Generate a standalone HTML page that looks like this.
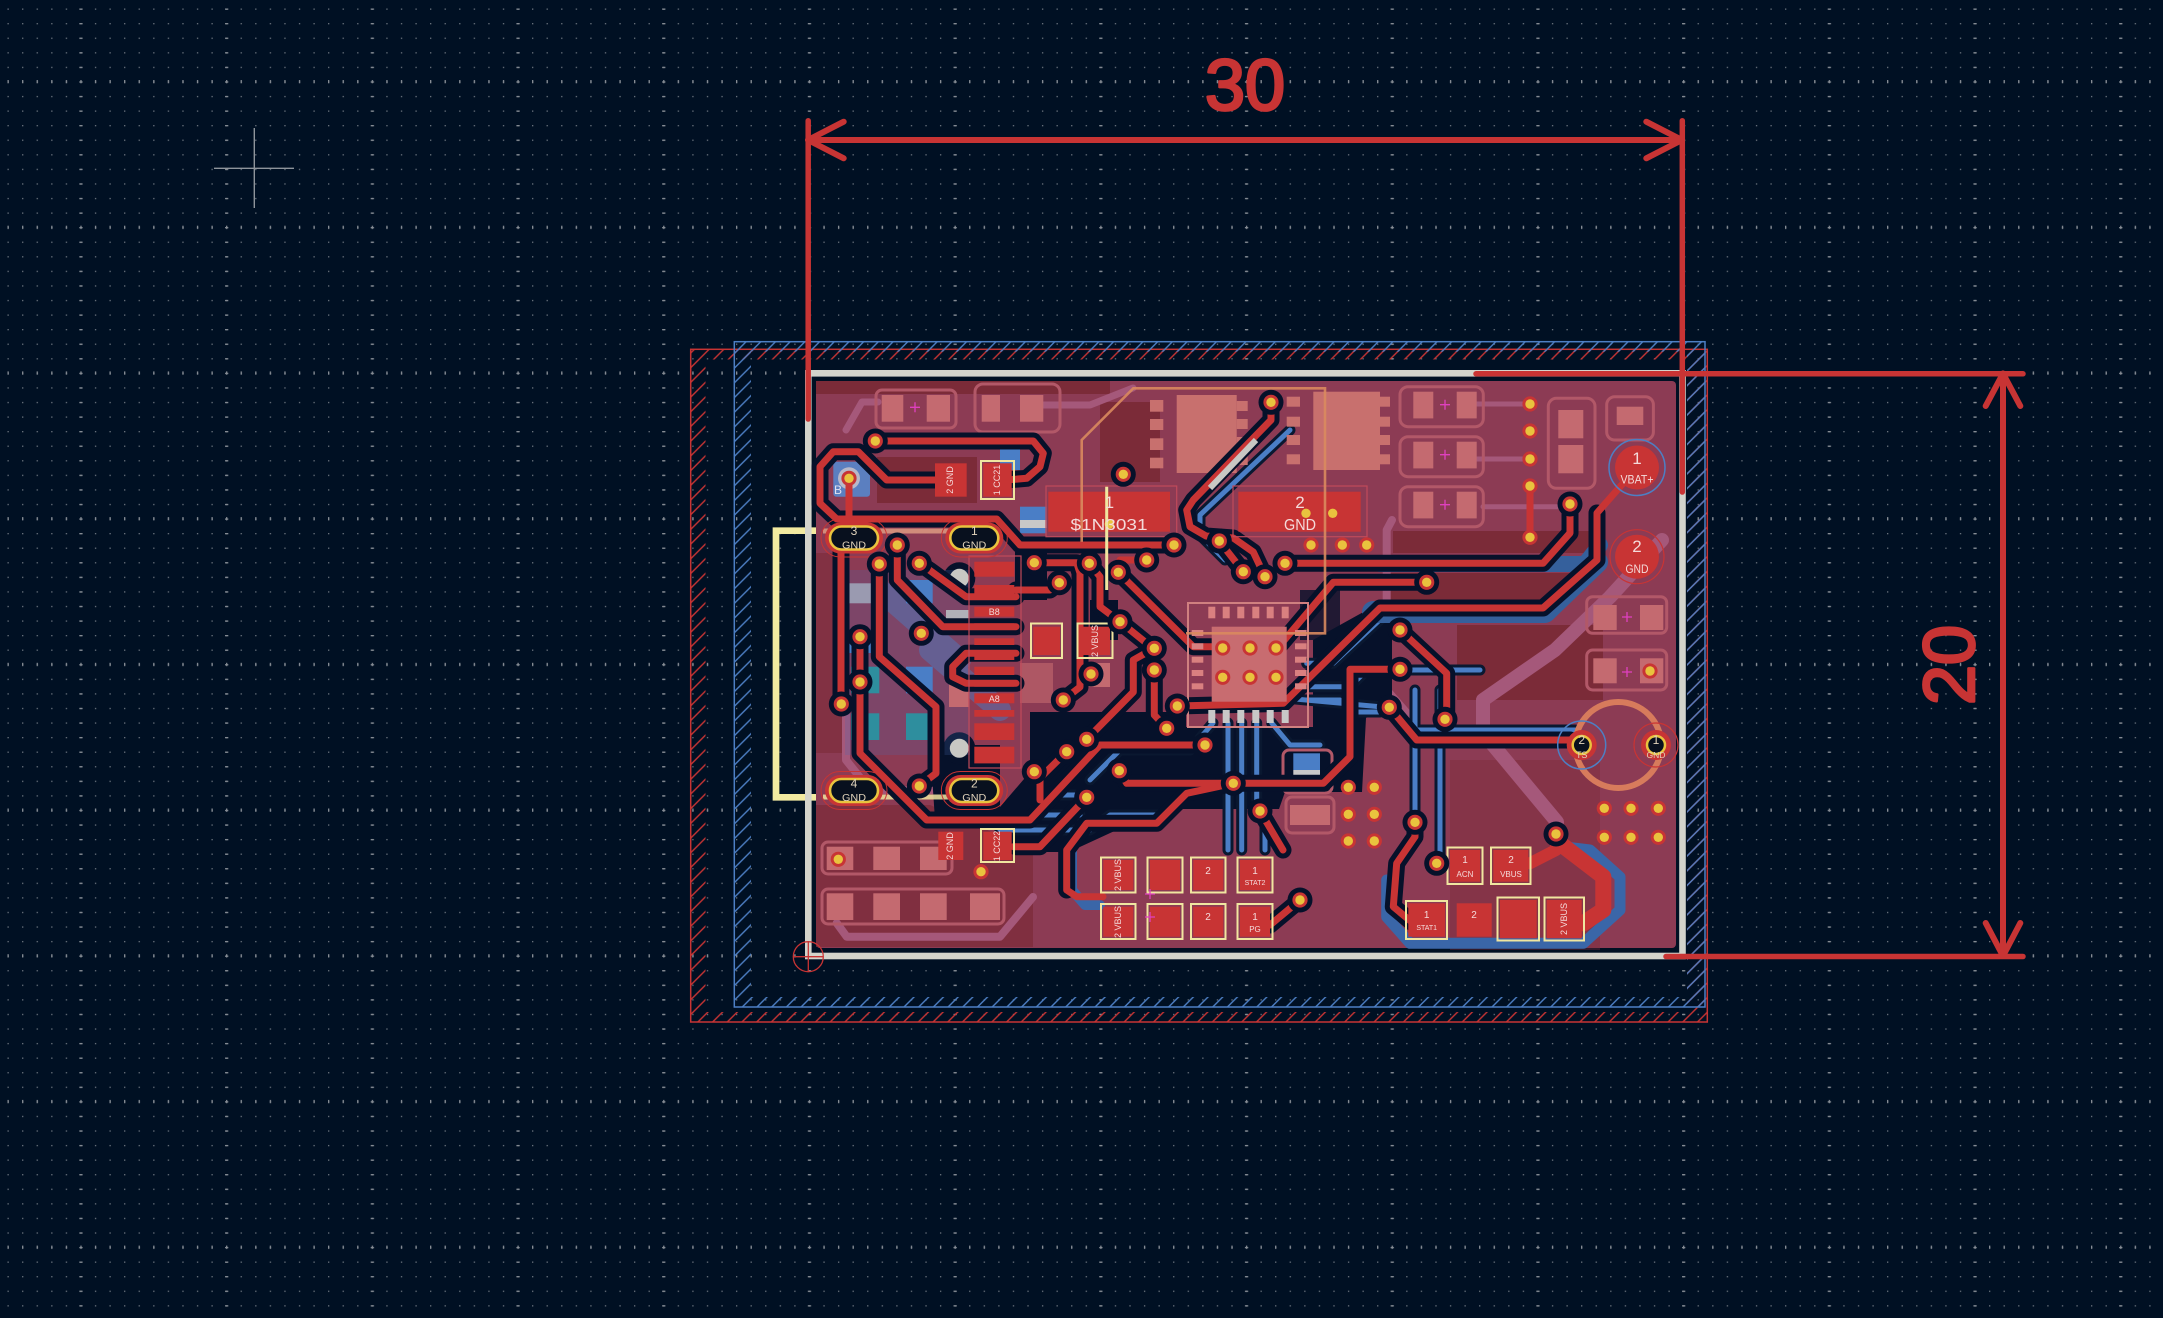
<!DOCTYPE html>
<html><head><meta charset="utf-8"><style>
html,body{margin:0;padding:0;background:#001023;width:2163px;height:1318px;overflow:hidden}
svg{display:block}
</style></head><body>
<svg xmlns="http://www.w3.org/2000/svg" width="2163" height="1318" viewBox="0 0 2163 1318" font-family="Liberation Sans, sans-serif">
<defs>
<pattern id="gmin" x="7.48" y="8.48" width="14.57" height="14.57" patternUnits="userSpaceOnUse"><rect width="1.3" height="1.3" fill="#6c747e"/></pattern>
<pattern id="grow" x="7.48" y="80" width="14.57" height="145.7" patternUnits="userSpaceOnUse"><rect width="1.3" height="3.3" fill="#878d95"/></pattern>
<pattern id="gcol" x="79.3" y="8.48" width="145.7" height="14.57" patternUnits="userSpaceOnUse"><rect width="3.3" height="1.3" fill="#878d95"/></pattern>
<pattern id="hr" width="14.7" height="14.7" patternUnits="userSpaceOnUse"><path d="M-2 16.7L16.7 -2M-2 2L2 -2M12.7 16.7L16.7 12.7" stroke="#c83434" stroke-width="1.4"/></pattern>
<pattern id="hb" width="14.7" height="14.7" patternUnits="userSpaceOnUse"><path d="M-2 16.7L16.7 -2M-2 2L2 -2M12.7 16.7L16.7 12.7" stroke="#4d7fc4" stroke-width="1.4"/></pattern>
<g id="v"><circle r="7.6" fill="#c83434"/><circle r="4.7" fill="#e9c33e"/></g>
<g id="vd"><circle r="12.5" fill="#06112a"/><circle r="7.6" fill="#c83434"/><circle r="4.7" fill="#e9c33e"/></g>
<g id="ov"><rect x="-33" y="-19" width="66" height="38" rx="19" fill="none" stroke="#c83434" stroke-width="1"/><rect x="-29" y="-15.5" width="58" height="31" rx="15.5" fill="#c83434"/><rect x="-24" y="-11.5" width="48" height="23" rx="11.5" fill="#08101e" stroke="#e9c33e" stroke-width="2.6"/></g>
</defs>

<rect width="2163" height="1318" fill="#001023"/>
<rect width="2163" height="1318" fill="url(#gmin)"/>
<rect width="2163" height="1318" fill="url(#grow)"/>
<rect width="2163" height="1318" fill="url(#gcol)"/>
<path d="M214 168.3H294M254.3 128V208" stroke="#8e949b" stroke-width="1.4"/>

<path d="M690.7 349.3H1707.3V1022H690.7Z M705.5 359.5V1012H1687V359.5Z" fill="url(#hr)" fill-rule="evenodd"/>
<rect x="690.7" y="349.3" width="1016.6" height="672.7" fill="none" stroke="#c83434" stroke-width="1.5"/>
<path d="M734.3 341.7H1705V1007H734.3Z M751 351.7V997H1687V351.7Z" fill="url(#hb)" fill-rule="evenodd"/>
<rect x="734.3" y="341.7" width="970.7" height="665.3" fill="none" stroke="#4d7fc4" stroke-width="1.5"/>

<path d="M823 530.7H776V797.3H823" fill="none" stroke="#f2eaa0" stroke-width="6.7"/>

<rect x="808.3" y="373.3" width="874.2" height="582.7" fill="none" stroke="#d3d3cb" stroke-width="6.6"/>
<rect x="816" y="381" width="860" height="567" rx="4" fill="#8c3b54"/>

<g fill="#7b2b38">
<path d="M816 381H1110V394H816Z"/>
<rect x="877" y="457" width="100" height="46"/>
<rect x="1100" y="402" width="60" height="80"/>
<rect x="1393" y="531" width="210" height="22"/>
<rect x="1387" y="573" width="183" height="27"/>
<path d="M1457 625H1603V700H1457Z"/>
<path d="M816 805H930L1033 850V947H816Z" opacity=".7"/>
<rect x="816" y="553" width="28" height="200" opacity=".6"/>
<path d="M1450 760H1600V950H1450Z" opacity=".4"/>
</g>

<g fill="none" stroke="#a5587a" stroke-linecap="round" stroke-linejoin="round">
<path d="M1662 540L1610 597L1555 650L1483 700V733L1557 822" stroke-width="14"/>
<path d="M1476.7 404H1523M1476.7 459H1523M1483 506.7H1560" stroke-width="5"/>
<path d="M1392 520L1386.7 530V690L1413 720" stroke-width="8"/>
<path d="M836.7 923L846.7 936.7H1000L1033 897" stroke-width="8"/>
<path d="M846 430L862 402H878M1043 405H1090L1133 388" stroke-width="7"/>
<path d="M846 690V760L870 790H935" stroke-width="8"/>
</g>

<g fill="#06112a">
<path d="M1030 712H1186V727H1313V640L1367 610H1392V700L1366 718L1362 792H1285L1279 809H1162L1069 852H1000V807L1030 772V730Z"/>
<path d="M930 745H1000V820H935Z"/>
<circle cx="959.3" cy="578.3" r="16"/>
<circle cx="959.3" cy="748.3" r="16"/>
<path d="M1015 540H1047V600H1015Z"/>
<path d="M1090 600H1118V640H1090Z"/>
<path d="M1300 590H1340V640H1300Z" opacity=".8"/>
</g>
<rect x="845" y="570" width="125" height="185" fill="#4a6ab0" opacity=".22"/>

<g fill="none" stroke-linecap="round" stroke-linejoin="round">
<g stroke="#0a1830" stroke-width="11">
<path d="M1228 723V850M1241.7 723V850M1256.7 723V800L1265 810V850M1213 723L1190 750H1120L1090 780M1271.7 723L1290 745H1320"/>
<path d="M1306.7 663.3H1333.3L1383.3 616.7H1480M1306.7 686.7H1350L1367 670H1480M1306.7 700H1340L1352 712H1380"/>
<path d="M1270 696.7L1380 706.7M1410 730H1575M1415 690V823M1440 690V863"/>
<path d="M1000 830H1090L1110 815H1160M1040 795H1075M1013 830L1040 815H1080"/>
<path d="M1290 430L1200 515V535L1225 560"/>
</g>
<g stroke="#4a7ec6" stroke-width="5">
<path d="M1228 723V850M1241.7 723V850M1256.7 723V800L1265 810V850M1213 723L1190 750H1120L1090 780M1271.7 723L1290 745H1320"/>
<path d="M1306.7 663.3H1333.3L1383.3 616.7H1480M1306.7 686.7H1350L1367 670H1480M1306.7 700H1340L1352 712H1380"/>
<path d="M1270 696.7L1380 706.7M1410 730H1575M1415 690V823M1440 690V863"/>
<path d="M1000 830H1090L1110 815H1160M1040 795H1075M1013 830L1040 815H1080"/>
<path d="M1290 430L1200 515V535L1225 560"/>
</g>
<path d="M1380 564H1585L1600 545" stroke="#35609c" stroke-width="16"/>
<path d="M1373 612H1545L1597 562" stroke="#35609c" stroke-width="22"/>
<path d="M1386.7 880V917L1410 943.3H1583.3L1620 910V877L1590 850L1563 846.7" stroke="#3a66a8" stroke-width="11"/>
<path d="M1072 852V890L1085 905H1100" stroke="#3a66a8" stroke-width="10"/>
<path d="M880 590L960 660M930 650L1000 710" stroke="#4a7ec6" stroke-width="22" opacity=".45"/>
</g>

<g fill="none" stroke="#b25868" stroke-width="3">
<rect x="876" y="390" width="80" height="38" rx="6"/>
<rect x="975" y="384" width="85" height="48" rx="8"/>
<rect x="1400" y="386.7" width="83.3" height="40" rx="8"/>
<rect x="1400" y="436.7" width="83.3" height="40" rx="8"/>
<rect x="1400" y="486.7" width="83.3" height="40" rx="8"/>
<rect x="1548.3" y="398.3" width="46.7" height="90" rx="8"/>
<rect x="1606.7" y="396.7" width="46.7" height="43.3" rx="8"/>
<rect x="1586.7" y="596.7" width="80" height="36.6" rx="6"/>
<rect x="1586.7" y="650" width="80" height="40" rx="6"/>
<rect x="822" y="842" width="130" height="32" rx="6"/>
<rect x="822" y="889" width="182" height="35" rx="6"/>
<rect x="1283" y="750" width="49" height="43" rx="6"/>
<rect x="1286" y="797" width="48" height="36" rx="6"/>
</g>
<g fill="#c46a70">
<rect x="881.7" y="395" width="21.6" height="26.7"/><rect x="926.7" y="395" width="23.3" height="26.7"/>
<rect x="981.7" y="395" width="18.3" height="26.7"/><rect x="1020" y="395" width="23.3" height="26.7"/>
<rect x="1413.3" y="391.7" width="20" height="26.7"/><rect x="1456.7" y="391.7" width="20" height="26.7"/>
<rect x="1413.3" y="441.7" width="20" height="26.7"/><rect x="1456.7" y="441.7" width="20" height="26.7"/>
<rect x="1413.3" y="491.7" width="20" height="26.7"/><rect x="1456.7" y="491.7" width="20" height="26.7"/>
<rect x="1558.3" y="410" width="25" height="28.3"/><rect x="1558.3" y="445" width="25" height="28.3"/>
<rect x="1616.7" y="406.7" width="26.6" height="18.3"/>
<rect x="1593.3" y="605" width="23.4" height="25"/><rect x="1640" y="605" width="23.3" height="25"/>
<rect x="1593.3" y="658.3" width="23.4" height="25"/><rect x="1640" y="658.3" width="23.3" height="25"/>
<rect x="826.7" y="846.7" width="26.6" height="23.3"/><rect x="873.3" y="846.7" width="26.7" height="23.3"/><rect x="920" y="846.7" width="26.7" height="23.3"/>
<rect x="826.7" y="893.3" width="26.6" height="26.7"/><rect x="873.3" y="893.3" width="26.7" height="26.7"/><rect x="920" y="893.3" width="26.7" height="26.7"/><rect x="970" y="893.3" width="30" height="26.7"/>
<rect x="1290" y="805" width="40" height="20"/>
<rect x="1080" y="663" width="30" height="24"/>
<rect x="1020" y="663" width="33" height="40" opacity=".6"/>
<rect x="949" y="683" width="20" height="24"/>
</g>
<g fill="#c8706e">
<rect x="1176.7" y="395" width="60" height="78"/>
<rect x="1236.7" y="401" width="11" height="10"/><rect x="1236.7" y="419" width="11" height="10"/><rect x="1236.7" y="437" width="11" height="10"/><rect x="1236.7" y="455" width="11" height="10"/>
<rect x="1150" y="400" width="13.3" height="11.7"/><rect x="1150" y="419" width="13.3" height="11"/><rect x="1150" y="438.3" width="13.3" height="11.7"/><rect x="1150" y="457.7" width="13.3" height="10.6"/>
<rect x="1313.3" y="391.7" width="66.7" height="78.3"/>
<rect x="1286.7" y="396.7" width="13.3" height="10"/><rect x="1286.7" y="416.7" width="13.3" height="10"/><rect x="1286.7" y="435" width="13.3" height="10"/><rect x="1286.7" y="454.3" width="13.3" height="10"/>
<rect x="1380" y="396.7" width="10" height="10"/><rect x="1380" y="416.7" width="10" height="10"/><rect x="1380" y="435" width="10" height="10"/><rect x="1380" y="454.3" width="10" height="10"/>
</g>
<circle cx="1618.3" cy="745" r="43" fill="none" stroke="#d77b5c" stroke-width="6"/>

<rect x="833.3" y="461.7" width="36.7" height="35" rx="3" fill="#5b7fc0"/>
<circle cx="849" cy="478.3" r="11" fill="#b8b8c8"/>
<rect x="849.3" y="583.3" width="33.4" height="20" fill="#9a9ab0"/>
<rect x="906" y="580" width="26.7" height="23.3" fill="#4a7ec6"/>
<rect x="849" y="630" width="34" height="23" fill="#4a7ec6"/>
<rect x="851" y="666.7" width="28.3" height="26.6" fill="#2e8e9e"/>
<rect x="851" y="713.3" width="28.3" height="26.7" fill="#2e8e9e"/>
<rect x="906" y="713.3" width="26.7" height="26.7" fill="#2e8e9e"/>
<rect x="906" y="666.7" width="26.7" height="26.6" fill="#4a7ec6"/>
<rect x="946" y="610" width="23.3" height="16.7" fill="#b0b0b8"/>
<rect x="1020" y="506.7" width="26.7" height="26.6" fill="#4a7ec6"/>
<rect x="1020" y="520" width="26.7" height="8" fill="#c8c8c8"/>
<rect x="1000" y="446.7" width="20" height="23.3" fill="#4a7ec6"/>
<rect x="1293.3" y="753.3" width="26.7" height="16.7" fill="#4a7ec6"/>
<rect x="1293.3" y="770" width="26.7" height="8" fill="#c8c8c8"/>
<circle cx="959.3" cy="578.3" r="9.5" fill="#c8c8c4"/>
<circle cx="959.3" cy="748.3" r="9.5" fill="#c8c8c4"/>

<path d="M823 531H1005" stroke="#e8a888" stroke-width="5" opacity=".75"/>
<path d="M823 797H950" stroke="#f0e6a0" stroke-width="5" opacity=".85"/>

<g fill="none" stroke-linecap="round" stroke-linejoin="round">
<g stroke="#06112a" stroke-width="17">
<path d="M875.3 441H1033.3L1043.3 453.3L1040 466.7L1026.7 478.3L1006 480"/>
<path d="M940 480H886.7L858.3 451.7H833.3L820 466.7V503.3L836.7 519H996.7L1020 545H1173.3"/>
<path d="M860 636.7V753.3L926.7 820H1030L1100 745H1205"/>
<path d="M1034.3 562.7H1076.7L1080 573V687L1063.3 700"/>
<path d="M1089.3 563.3L1100 576.7V606.7L1120 621.7L1146.7 643.3L1154.3 648.3"/>
<path d="M1118.3 572.3L1193.3 646.7H1222.7"/>
<path d="M1271 402.3V420L1193.3 500L1186.7 510L1190 526.7L1206 536L1233.3 538L1253.3 552L1265 576.7"/>
<path d="M1219.3 541L1243.3 571.7"/>
<path d="M1285 563.3H1543L1570 533V504"/>
<path d="M1426.7 582.3H1333.3L1277.3 648.3"/>
<path d="M1597 513V560L1543 608H1380L1283.3 703.3L1177.3 706"/>
<path d="M1400 630L1446.7 673.3V720"/>
<path d="M1400 669.3H1350V756.7L1323.3 783.3H1126.7L1119.3 770.7"/>
<path d="M1389.3 707.3L1416.7 740H1570"/>
<path d="M1415 822.3V836.7L1396.7 863.3L1393.3 906.7L1413.3 923.3"/>
<path d="M1086.7 797.3L1040 846.7H1016"/>
<path d="M1066.7 890V850L1086.7 823.3H1156.7L1186.7 793.3L1233.3 783.3"/>
<path d="M1260 811L1283 850M1270 925L1300 900"/>
<path d="M1154.3 670V715L1166.7 728.3M1086.7 739.3L1133.3 692V660L1154.3 648.3M1066.7 751.7L1040 778V800"/>
<path d="M919.3 563.3L929.3 570L966 596.7H1016M897.3 545V580L942.7 626.7H1016M879.3 564V656.7L936 706.7V773.3L919.3 786"/>
<path d="M1016 653.3H966L952.7 666.7V676.7L966 683.3H1016M1059.3 582.7L1050 590H1016"/>
<path d="M841 548V704"/>
</g>
<g stroke="#c83434" stroke-width="7">
<path d="M875.3 441H1033.3L1043.3 453.3L1040 466.7L1026.7 478.3L1006 480"/>
<path d="M940 480H886.7L858.3 451.7H833.3L820 466.7V503.3L836.7 519H996.7L1020 545H1173.3"/>
<path d="M849 478V519"/>
<path d="M860 636.7V753.3L926.7 820H1030L1100 745H1205"/>
<path d="M1034.3 562.7H1076.7L1080 573V687L1063.3 700"/>
<path d="M1089.3 563.3L1100 576.7V606.7L1120 621.7L1146.7 643.3L1154.3 648.3"/>
<path d="M1118.3 572.3L1193.3 646.7H1222.7"/>
<path d="M1271 402.3V420L1193.3 500L1186.7 510L1190 526.7L1206 536L1233.3 538L1253.3 552L1265 576.7"/>
<path d="M1219.3 541L1243.3 571.7"/>
<path d="M1285 563.3H1543L1570 533V504"/>
<path d="M1426.7 582.3H1333.3L1277.3 648.3"/>
<path d="M1637 467.5L1597 513V560L1543 608H1380L1283.3 703.3L1177.3 706"/>
<path d="M1400 630L1446.7 673.3V720"/>
<path d="M1400 669.3H1350V756.7L1323.3 783.3H1126.7L1119.3 770.7"/>
<path d="M1389.3 707.3L1416.7 740H1570L1581.7 745"/>
<path d="M1415 822.3V836.7L1396.7 863.3L1393.3 906.7L1413.3 923.3L1426 920"/>
<path d="M1086.7 797.3L1040 846.7H1013.3"/>
<path d="M1103 896.7H1076.7L1066.7 890V850L1086.7 823.3H1156.7L1186.7 793.3L1233.3 783.3"/>
<path d="M1260 811L1283 850M1270 925L1300 900"/>
<path d="M1154.3 670V715L1166.7 728.3M1086.7 739.3L1133.3 692V660L1154.3 648.3M1066.7 751.7L1040 778V800"/>
<path d="M919.3 563.3L929.3 570L966 596.7H1016M897.3 545V580L942.7 626.7H1016M879.3 564V656.7L936 706.7V773.3L919.3 786"/>
<path d="M1016 653.3H966L952.7 666.7V676.7L966 683.3H1016M1059.3 582.7L1050 590H1016"/>
<path d="M841 548V704M1530 486V537.3"/>
<path d="M1146.7 560H1120"/>
</g>
<path d="M1556 834V850L1530 863.3H1511.7" stroke="#c83434" stroke-width="12"/>
<path d="M1562 845L1603.3 876.7V910L1583.3 923.3L1563 920" stroke="#c83434" stroke-width="16"/>
</g>

<rect x="1188" y="603" width="120" height="124" fill="none" stroke="#d08080" stroke-width="2"/>
<g fill="#d98080">
<rect x="1208.3" y="606.7" width="7" height="11.6"/><rect x="1222.7" y="606.7" width="7" height="11.6"/><rect x="1237.3" y="606.7" width="7" height="11.6"/><rect x="1252.3" y="606.7" width="7" height="11.6"/><rect x="1266.7" y="606.7" width="7" height="11.6"/><rect x="1281.7" y="606.7" width="7" height="11.6"/>
<rect x="1191.7" y="630" width="11.6" height="6"/><rect x="1191.7" y="643.3" width="11.6" height="6"/><rect x="1191.7" y="656.7" width="11.6" height="6"/><rect x="1191.7" y="670" width="11.6" height="6"/><rect x="1191.7" y="683.3" width="11.6" height="6"/>
<rect x="1295" y="630" width="11.6" height="6"/><rect x="1295" y="643.3" width="11.6" height="6"/><rect x="1295" y="656.7" width="11.6" height="6"/><rect x="1295" y="670" width="11.6" height="6"/><rect x="1295" y="683.3" width="11.6" height="6"/>
</g>
<g fill="#c8c8c8">
<rect x="1208.3" y="710" width="7" height="13"/><rect x="1222.7" y="710" width="7" height="13"/><rect x="1237.3" y="710" width="7" height="13"/><rect x="1252.3" y="710" width="7" height="13"/><rect x="1266.7" y="710" width="7" height="13"/><rect x="1281.7" y="710" width="7" height="13"/>
</g>
<rect x="1211.7" y="626.7" width="75" height="75" fill="#c86c70"/>

<g fill="#c83434">
<rect x="1048.3" y="491.7" width="121.7" height="40"/>
<rect x="1238.3" y="491.7" width="122.4" height="40"/>
<rect x="935" y="463.3" width="31.7" height="33.4"/>
<rect x="983.3" y="463.3" width="28.4" height="33.4"/>
<rect x="938.3" y="831.7" width="25" height="28.3"/>
<rect x="983.3" y="831.7" width="28.4" height="28.3"/>
<rect x="1033.3" y="626.7" width="26.7" height="28.3"/>
<rect x="1080" y="626.7" width="30" height="28.3"/>
<rect x="1103.3" y="860" width="30" height="30"/><rect x="1150" y="860" width="30" height="30"/><rect x="1193.3" y="860" width="30" height="30"/><rect x="1240" y="860" width="30" height="30"/>
<rect x="1103.3" y="906.7" width="30" height="30"/><rect x="1150" y="906.7" width="30" height="30"/><rect x="1193.3" y="906.7" width="30" height="30"/><rect x="1240" y="906.7" width="30" height="30"/>
<rect x="1450" y="850" width="30" height="31.7"/><rect x="1493.3" y="850" width="35" height="31.7"/>
<rect x="1408.3" y="903.3" width="36.7" height="33.4"/><rect x="1456.7" y="903.3" width="35" height="33.4"/><rect x="1500" y="900" width="36.7" height="38.3"/><rect x="1546.7" y="900" width="35" height="38.3"/>
<rect x="974.3" y="561.7" width="40" height="15"/><rect x="974.3" y="585" width="40" height="15"/><rect x="974.3" y="606.7" width="40" height="10"/><rect x="974.3" y="623.3" width="40" height="6.7"/><rect x="974.3" y="638.3" width="40" height="6.7"/><rect x="974.3" y="651.7" width="40" height="8.3"/><rect x="974.3" y="666.7" width="40" height="8.3"/><rect x="974.3" y="680" width="40" height="6.7"/><rect x="974.3" y="693.3" width="40" height="10"/><rect x="974.3" y="710" width="40" height="6.7"/><rect x="974.3" y="723.3" width="40" height="16.7"/><rect x="974.3" y="746.7" width="40" height="16.7"/>
</g>
<rect x="969" y="556" width="52" height="212" fill="none" stroke="#c04a5a" stroke-width="1.2"/>
<rect x="1046" y="486" width="130.7" height="50.7" fill="none" stroke="#c04a5a" stroke-width="1.2"/>
<rect x="1233" y="486" width="134" height="50.7" fill="none" stroke="#c04a5a" stroke-width="1.2"/>
<g fill="none" stroke="#f0e6a0" stroke-width="2">
<rect x="981" y="461" width="33" height="38"/>
<rect x="981" y="829" width="33" height="33"/>
<rect x="1031" y="623.5" width="31" height="34.5"/>
<rect x="1077.5" y="623.5" width="35" height="34.5"/>
<rect x="1101" y="857.5" width="34.5" height="35"/><rect x="1147.5" y="857.5" width="35" height="35"/><rect x="1191" y="857.5" width="34.5" height="35"/><rect x="1237.5" y="857.5" width="35" height="35"/>
<rect x="1101" y="904" width="34.5" height="35"/><rect x="1147.5" y="904" width="35" height="35"/><rect x="1191" y="904" width="34.5" height="35"/><rect x="1237.5" y="904" width="35" height="35"/>
<rect x="1447.5" y="847.5" width="35" height="36.5"/><rect x="1491" y="847.5" width="39.5" height="36.5"/>
<rect x="1406" y="901" width="41" height="38"/><rect x="1497.5" y="897.5" width="41.5" height="43"/><rect x="1544.5" y="897.5" width="39.5" height="43"/>
</g>

<circle cx="1637" cy="467.5" r="28" fill="none" stroke="#4d7fc4" stroke-width="1.5"/>
<circle cx="1637" cy="467.5" r="22" fill="#c83434"/>
<circle cx="1637" cy="556.7" r="27" fill="none" stroke="#c83434" stroke-width="1.2"/>
<circle cx="1637" cy="556.7" r="22" fill="#c83434"/>
<circle cx="1581.7" cy="745" r="24" fill="none" stroke="#4d7fc4" stroke-width="1.5"/>
<circle cx="1581.7" cy="745" r="15" fill="#c83434"/>
<circle cx="1581.7" cy="745" r="9" fill="#08101e" stroke="#e9c33e" stroke-width="2.5"/>
<circle cx="1656" cy="745" r="22" fill="none" stroke="#c83434" stroke-width="1.2"/>
<circle cx="1656" cy="745" r="15" fill="#c83434"/>
<circle cx="1656" cy="745" r="9" fill="#08101e" stroke="#e9c33e" stroke-width="2.5"/>

<use href="#ov" x="854" y="538"/>
<use href="#ov" x="974.3" y="538"/>
<use href="#ov" x="854" y="790.5"/>
<use href="#ov" x="974.3" y="790.5"/>

<g>
<use href="#vd" x="875.3" y="441"/><use href="#vd" x="1123.3" y="474.3"/><use href="#vd" x="1174" y="545"/><use href="#vd" x="1219.3" y="541"/><use href="#vd" x="1243.3" y="571.7"/><use href="#vd" x="1265" y="576.7"/><use href="#vd" x="1146.7" y="560"/><use href="#vd" x="1118.3" y="572.3"/><use href="#vd" x="1089.3" y="563.3"/><use href="#vd" x="1034.3" y="562.7"/><use href="#vd" x="1059.3" y="582.7"/><use href="#vd" x="897.3" y="545"/><use href="#vd" x="879.3" y="564"/><use href="#vd" x="919.3" y="563.3"/><use href="#vd" x="860" y="636.7"/><use href="#vd" x="860" y="682"/><use href="#vd" x="921.3" y="633.3"/><use href="#vd" x="1120" y="621.7"/><use href="#vd" x="1154.3" y="648.3"/><use href="#vd" x="1154.3" y="670"/><use href="#vd" x="1091" y="674"/><use href="#vd" x="1063.3" y="700"/><use href="#vd" x="841.3" y="704"/><use href="#vd" x="919.3" y="786"/><use href="#vd" x="1034.3" y="771.7"/><use href="#vd" x="1066.7" y="751.7"/><use href="#vd" x="1086.7" y="739.3"/><use href="#vd" x="1086.7" y="797.3"/><use href="#vd" x="1119.3" y="770.7"/><use href="#vd" x="1166.7" y="728.3"/><use href="#vd" x="1177.3" y="706"/><use href="#vd" x="1205" y="745"/><use href="#vd" x="1233.3" y="783.3"/><use href="#vd" x="1260" y="811"/><use href="#vd" x="1285" y="563.3"/><use href="#vd" x="1426.7" y="582.3"/><use href="#vd" x="1570" y="504"/><use href="#vd" x="1400" y="630"/><use href="#vd" x="1400" y="669.3"/><use href="#vd" x="1389.3" y="707.3"/><use href="#vd" x="1445" y="719.3"/><use href="#vd" x="1415" y="822.3"/><use href="#vd" x="1436.7" y="863.3"/><use href="#vd" x="1556" y="834"/><use href="#vd" x="1300" y="900"/><use href="#vd" x="1271" y="402.3"/>
<use href="#v" x="849" y="478.3"/><use href="#v" x="1109.3" y="524"/><use href="#v" x="1530" y="404"/><use href="#v" x="1530" y="431"/><use href="#v" x="1530" y="459"/><use href="#v" x="1530" y="486"/><use href="#v" x="1530" y="537.3"/><use href="#v" x="1306" y="513.3"/><use href="#v" x="1332.7" y="513.3"/><use href="#v" x="1311" y="545"/><use href="#v" x="1342.3" y="545"/><use href="#v" x="1366.7" y="545"/><use href="#v" x="1650" y="671"/><use href="#v" x="838.3" y="859.3"/><use href="#v" x="981" y="871.7"/>
<use href="#v" x="1222.7" y="648"/><use href="#v" x="1250" y="648"/><use href="#v" x="1276" y="648"/><use href="#v" x="1222.7" y="677.3"/><use href="#v" x="1250" y="677.3"/><use href="#v" x="1276" y="677.3"/>
<use href="#v" x="1348.3" y="787.3"/><use href="#v" x="1374.3" y="787.3"/><use href="#v" x="1348.3" y="814.3"/><use href="#v" x="1374.3" y="814.3"/><use href="#v" x="1348.3" y="841"/><use href="#v" x="1374.3" y="841"/>
<use href="#v" x="1604.3" y="808.3"/><use href="#v" x="1631" y="808.3"/><use href="#v" x="1658.3" y="808.3"/><use href="#v" x="1604.3" y="837.3"/><use href="#v" x="1631" y="837.3"/><use href="#v" x="1658.3" y="837.3"/>
</g>

<path d="M1081.7 541.7V440L1133.3 388.3H1325V633.3H1186" fill="none" stroke="#d98a5e" stroke-width="2.6" opacity=".9"/>
<path d="M1106.7 486.7V590" stroke="#f0e6a0" stroke-width="3"/>
<path d="M1256 440L1210 488" stroke="#c8c8c4" stroke-width="6"/>
<g stroke="#e040c0" stroke-width="1.3">
<path d="M910 407.3h10M915 402.3v10M1440 404.7h10M1445 399.7v10M1440 454.7h10M1445 449.7v10M1440 504.7h10M1445 499.7v10M1622 617h10M1627 612v10M1622 672h10M1627 667v10M1145 894h10M1150 889v10M1145 917h10M1150 912v10"/>
</g>
<circle cx="808.3" cy="956.7" r="15" fill="none" stroke="#c83434" stroke-width="1.3"/>
<path d="M793.3 956.7h30M808.3 941.7v30" stroke="#c83434" stroke-width="1.3"/>

<g fill="#f4dada" text-anchor="middle">
<text x="1109.3" y="508" font-size="17">1</text>
<text x="1109" y="530" font-size="16" textLength="77" lengthAdjust="spacingAndGlyphs">$1N3031</text>
<text x="1300" y="508" font-size="17">2</text>
<text x="1300" y="530" font-size="16" textLength="32" lengthAdjust="spacingAndGlyphs">GND</text>
<text x="1637" y="464" font-size="17">1</text>
<text x="1637" y="483.5" font-size="11.5" textLength="33" lengthAdjust="spacingAndGlyphs">VBAT+</text>
<text x="1637" y="552" font-size="17">2</text>
<text x="1637" y="573" font-size="12" textLength="23" lengthAdjust="spacingAndGlyphs">GND</text>
</g>
<g fill="#e2d4bc" text-anchor="middle">
<text x="854" y="535" font-size="12">3</text><text x="854" y="548.5" font-size="10.5" textLength="24" lengthAdjust="spacingAndGlyphs">GND</text>
<text x="974.3" y="535" font-size="12">1</text><text x="974.3" y="548.5" font-size="10.5" textLength="24" lengthAdjust="spacingAndGlyphs">GND</text>
<text x="854" y="787.5" font-size="12">4</text><text x="854" y="801" font-size="10.5" textLength="24" lengthAdjust="spacingAndGlyphs">GND</text>
<text x="974.3" y="787.5" font-size="12">2</text><text x="974.3" y="801" font-size="10.5" textLength="24" lengthAdjust="spacingAndGlyphs">GND</text>
<text x="1581.7" y="744" font-size="12">2</text><text x="1581.7" y="758" font-size="9">TS</text>
<text x="1656" y="744" font-size="12">1</text><text x="1656" y="758" font-size="8.5">GND</text>
</g>
<g fill="#f4dada" text-anchor="middle" font-size="10">
<text x="1465" y="863">1</text><text x="1465" y="877" font-size="8">ACN</text>
<text x="1511" y="863">2</text><text x="1511" y="877" font-size="8">VBUS</text>
<text x="1426.7" y="918">1</text><text x="1426.7" y="930" font-size="7">STAT1</text>
<text x="1474" y="918">2</text>
<text x="1255" y="874">1</text><text x="1255" y="885" font-size="7">STAT2</text>
<text x="1255" y="920">1</text><text x="1255" y="932" font-size="8">PG</text>
<text x="1208" y="874">2</text><text x="1208" y="920">2</text>
<text x="994.3" y="615" font-size="9">B8</text>
<text x="994.3" y="702" font-size="9">A8</text>
<text x="838" y="494" font-size="12" fill="#e0e0f0">B</text>
</g>
<g fill="#f4dada" font-size="9" text-anchor="middle">
<text transform="translate(953,480) rotate(-90)">2 GND</text>
<text transform="translate(1000,480) rotate(-90)">1 CC21</text>
<text transform="translate(953,846) rotate(-90)">2 GND</text>
<text transform="translate(1000,846) rotate(-90)">1 CC22</text>
<text transform="translate(1098,641) rotate(-90)">2 VBUS</text>
<text transform="translate(1121,875) rotate(-90)">2 VBUS</text>
<text transform="translate(1121,922) rotate(-90)">2 VBUS</text>
<text transform="translate(1567,919) rotate(-90)">2 VBUS</text>
</g>

<g stroke="#c83434" fill="none" stroke-linecap="round" stroke-linejoin="round">
<path d="M808 140H1682" stroke-width="6"/>
<path d="M843.7 121.7L808 140L843.7 158.3M1646.3 121.7L1682 140L1646.3 158.3" stroke-width="6"/>
<path d="M808.2 120.7V419M1682.3 120.7V492" stroke-width="5.5"/>
<path d="M2003 373.5V956" stroke-width="6"/>
<path d="M1985.7 406L2003 373.5L2020.3 406M1985.7 923L2003 956L2020.3 923" stroke-width="6"/>
<path d="M1476 373.8H2023M1666 956.5H2023" stroke-width="5.5"/>
</g>
<text x="1245" y="110" font-size="72" text-anchor="middle" fill="#c83434" stroke="#c83434" stroke-width="2.8" stroke-linejoin="round">30</text>
<text transform="translate(1974,665) rotate(-90)" font-size="72" text-anchor="middle" fill="#c83434" stroke="#c83434" stroke-width="2.8" stroke-linejoin="round">20</text>
</svg>
</body></html>
